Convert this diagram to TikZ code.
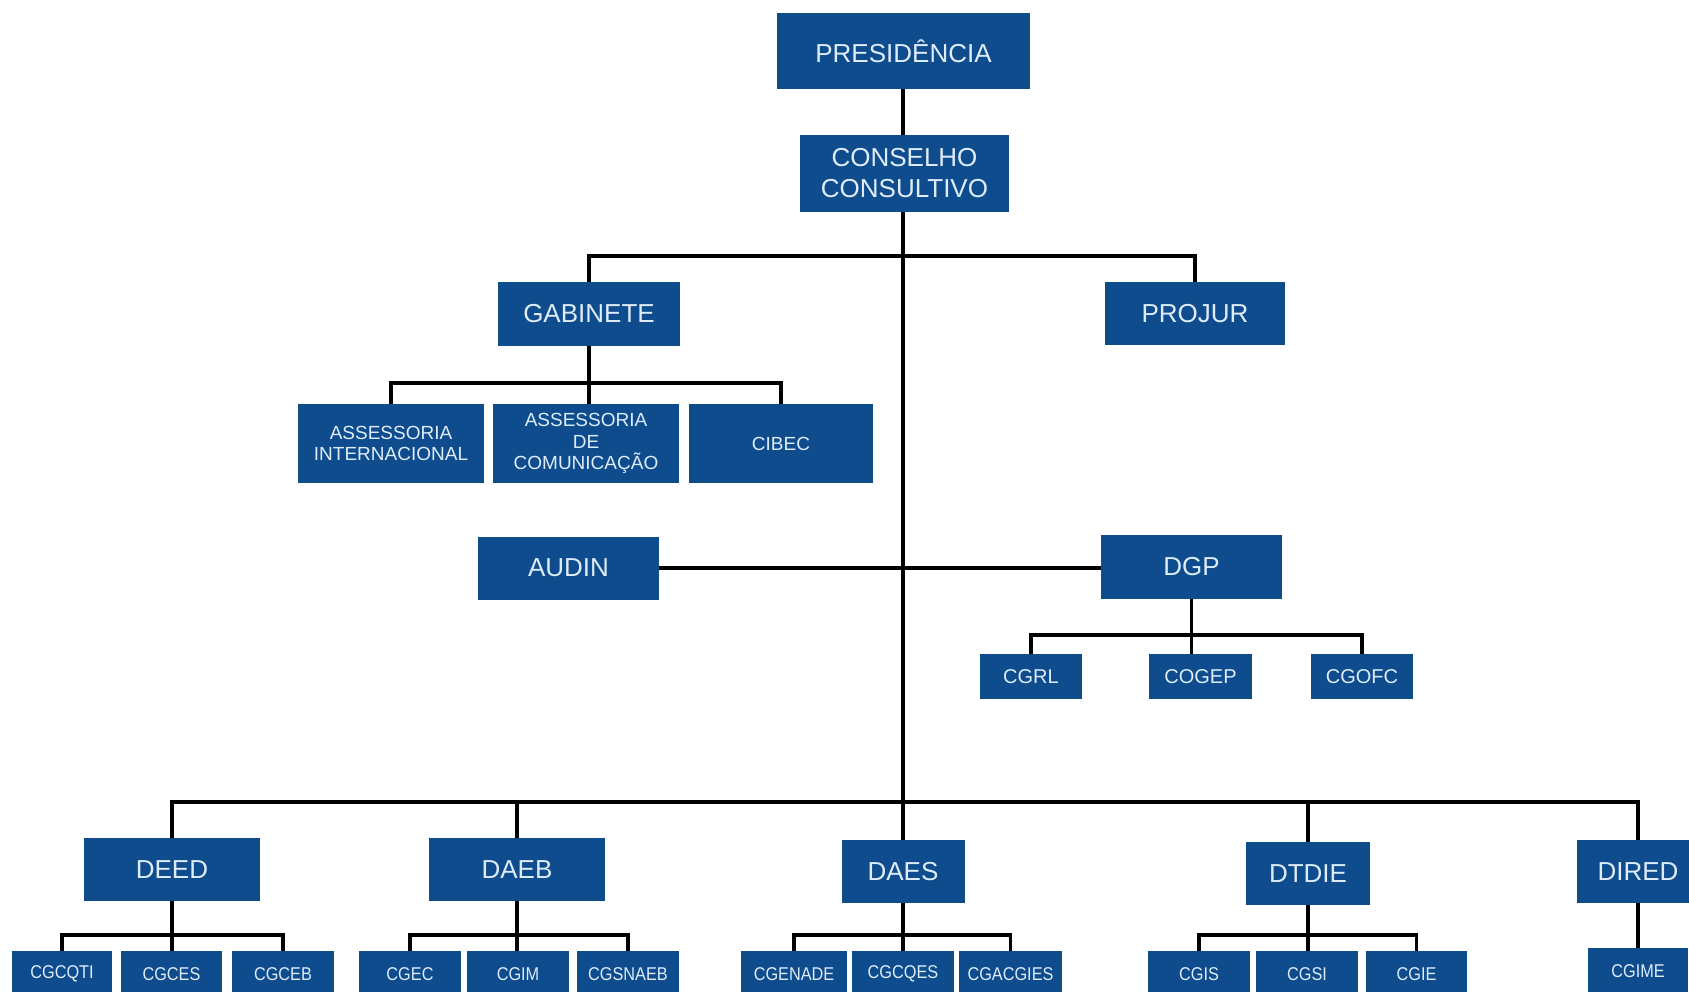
\documentclass[tikz,border=0pt]{standalone}
\usepackage{fontspec}
\setmainfont{Liberation Sans}
\newfontfamily\narrowsans[FakeStretch=0.88]{Liberation Sans}
\definecolor{boxblue}{RGB}{14,76,142}
\definecolor{txtc}{RGB}{222,236,250}
\begin{document}
\begin{tikzpicture}[x=1pt,y=-1pt,
  box/.style={fill=boxblue,text=txtc,inner sep=0pt,align=center},
  bigbox/.style={box,font=\fontsize{26}{31}\selectfont},
  midbox/.style={box,font=\fontsize{19}{21.5}\selectfont},
  dgpbox/.style={box,font=\fontsize{20}{24}\selectfont,minimum height=45pt},
  subbox/.style={box,font=\narrowsans\fontsize{18.5}{22}\selectfont,minimum height=46pt},
  conn/.style={draw=black,line width=3.5pt,line join=miter}]
\clip (0,0) rectangle (1689,992);
\fill[white] (0,0) rectangle (1689,992);

% top
\node[bigbox,minimum width=253pt,minimum height=76pt] (pres) at (903.5,51) {PRESIDÊNCIA};
\node[bigbox,minimum width=209pt,minimum height=77pt] (cons) at (904.5,173.5) {CONSELHO\\CONSULTIVO};
\node[bigbox,minimum width=182pt,minimum height=64pt] (gab) at (589,314) {GABINETE};
\node[bigbox,minimum width=180pt,minimum height=63pt] (projur) at (1195,313.5) {PROJUR};

\node[midbox,minimum width=186pt,minimum height=79pt] (ai) at (391,443.5) {ASSESSORIA\\INTERNACIONAL};
\node[midbox,minimum width=186pt,minimum height=79pt] (ac) at (586,443.5) {ASSESSORIA\\DE\\COMUNICAÇÃO};
\node[midbox,minimum width=184pt,minimum height=79pt] (cibec) at (781,443.5) {CIBEC};

\node[bigbox,minimum width=181pt,minimum height=63pt] (audin) at (568.5,568) {AUDIN};
\node[bigbox,minimum width=181pt,minimum height=64pt] (dgp) at (1191.5,567) {DGP};

\node[dgpbox,minimum width=102pt] (cgrl) at (1031,676.5) {CGRL};
\node[dgpbox,minimum width=103pt] (cogep) at (1200.5,676.5) {COGEP};
\node[dgpbox,minimum width=102pt] (cgofc) at (1362,676.5) {CGOFC};

% directorates
\node[bigbox,minimum width=176pt,minimum height=63pt] (deed) at (172,869.5) {DEED};
\node[bigbox,minimum width=176pt,minimum height=63pt] (daeb) at (517,869.5) {DAEB};
\node[bigbox,minimum width=123pt,minimum height=63pt] (daes) at (903,871.5) {DAES};
\node[bigbox,minimum width=124pt,minimum height=63pt] (dtdie) at (1308,873.5) {DTDIE};
\node[bigbox,minimum width=122pt,minimum height=63pt] (dired) at (1638,871.5) {DIRED};

% bottom subs
\node[subbox,minimum width=100pt] (cgcqti) at (62,974) {CGCQTI};
\node[subbox,minimum width=101pt] (cgces) at (171.5,974) {CGCES};
\node[subbox,minimum width=102pt] (cgceb) at (283,974) {CGCEB};
\node[subbox,minimum width=102pt] (cgec) at (410,974) {CGEC};
\node[subbox,minimum width=102pt] (cgim) at (518,974) {CGIM};
\node[subbox,minimum width=102pt] (cgsnaeb) at (628,974) {CGSNAEB};
\node[subbox,minimum width=106pt] (cgenade) at (794,974) {CGENADE};
\node[subbox,minimum width=102pt] (cgcqes) at (903,974) {CGCQES};
\node[subbox,minimum width=103pt] (cgacgies) at (1010.5,974) {CGACGIES};
\node[subbox,minimum width=102pt] (cgis) at (1199,974) {CGIS};
\node[subbox,minimum width=102pt] (cgsi) at (1307,974) {CGSI};
\node[subbox,minimum width=101pt] (cgie) at (1416.5,974) {CGIE};
\node[subbox,minimum width=100pt] (cgime) at (1638,971) {CGIME};

\coordinate (bigbar) at (0,802);

% connectors
\draw[conn] (cons.north -| daes.north) -- (pres.south -| daes.north);
\draw[conn] (cons.south -| daes.north) -- (daes.north);
\draw[conn] (gab.north) -- ++(0,-26) -| (projur.north);
\draw[conn] (ai.north) -- ++(0,-21) -| (cibec.north);
\draw[conn] (gab.south) -- (gab.south |- ac.north);
\draw[conn] (audin.east) -- (audin.east -| dgp.west);
\draw[conn] (cgrl.north) -- ++(0,-19) -| (cgofc.north);
\draw[conn] (dgp.south) -- (dgp.south |- cogep.north);
\draw[conn] (deed.north) -- (deed.north |- bigbar) -| (dired.north);
\draw[conn] (daeb.north) -- (daeb.north |- bigbar);
\draw[conn] (dtdie.north) -- (dtdie.north |- bigbar);
\draw[conn] (cgcqti.north) -- ++(0,-16) -| (cgceb.north);
\draw[conn] (deed.south) -- (deed.south |- cgces.north);
\draw[conn] (cgec.north) -- ++(0,-16) -| (cgsnaeb.north);
\draw[conn] (daeb.south) -- (daeb.south |- cgim.north);
\draw[conn] (cgenade.north) -- ++(0,-16) -| (cgacgies.north);
\draw[conn] (daes.south) -- (daes.south |- cgcqes.north);
\draw[conn] (cgis.north) -- ++(0,-16) -| (cgie.north);
\draw[conn] (dtdie.south) -- (dtdie.south |- cgsi.north);
\draw[conn] (dired.south) -- (dired.south |- cgime.north);
\end{tikzpicture}
\end{document}
